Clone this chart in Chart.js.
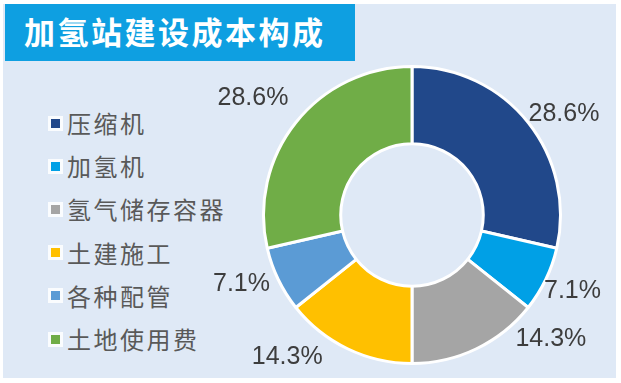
<!DOCTYPE html>
<html>
<head>
<meta charset="utf-8">
<script src="https://cdn.jsdelivr.net/npm/chart.js@4"></script>
<style>
html,body{margin:0;padding:0;background:#ffffff;}
#wrap{position:relative;width:621px;height:383px;overflow:hidden;background:#ffffff;}
#panel{position:absolute;left:3px;top:4px;width:613px;height:374px;background:#dfe9f6;}
#titlebar{position:absolute;left:5px;top:4px;width:350px;height:57px;background:#0e9fe1;}
#title{position:absolute;left:24px;top:9px;font-family:"Noto Sans CJK SC";font-weight:bold;font-size:31px;line-height:44px;color:#ffffff;letter-spacing:2.5px;white-space:nowrap;}
#legend{position:absolute;left:0;top:0;}
.item{position:absolute;left:48px;height:30px;display:flex;align-items:center;}
.mk{width:15px;height:15px;background:rgba(255,255,255,0.85);display:flex;align-items:center;justify-content:center;margin-right:4px;}
.mk span{display:block;width:9px;height:9px;}
.tx{font-family:"Noto Sans CJK SC";font-size:24px;color:#595959;letter-spacing:2.5px;white-space:nowrap;line-height:30px;}
canvas{position:absolute;left:0;top:0;}
</style>
</head>
<body>
<div id="wrap">
  <div id="panel"></div>
  <div id="titlebar"></div>
  <div id="title"></div>
  <div id="legend"></div>
  <div style="position:absolute;left:0;top:0;width:621px;height:383px;"><canvas id="c"></canvas></div>
</div>
<script>
const chartTitle = "加氢站建设成本构成";
const categories = ["压缩机", "加氢机", "氢气储存容器", "土建施工", "各种配管", "土地使用费"];
const values = [28.6, 7.1, 14.3, 14.3, 7.1, 28.6];
const valueLabels = ["28.6%", "7.1%", "14.3%", "14.3%", "7.1%", "28.6%"];
const colors = ["#21488a", "#00a0e6", "#a5a5a5", "#ffc000", "#5b9bd5", "#70ad47"];

document.getElementById('title').textContent = chartTitle;

// HTML legend built from the arrays
const legendEl = document.getElementById('legend');
const legendTops = 108, legendStep = 43.2;
categories.forEach((name, i) => {
  const d = document.createElement('div');
  d.className = 'item';
  d.style.top = (legendTops + i * legendStep) + 'px';
  const mk = document.createElement('div'); mk.className = 'mk';
  const sq = document.createElement('span'); sq.style.background = colors[i];
  mk.appendChild(sq);
  const tx = document.createElement('div'); tx.className = 'tx'; tx.textContent = name;
  d.appendChild(mk); d.appendChild(tx);
  legendEl.appendChild(d);
});

// label nudges (styling), relative to radial anchor
const labelNudge = [[10,12],[-3,-3],[60,-39],[-46,-21],[-7,-10],[-17,-4]];

const labelPlugin = {
  id: 'outLabels',
  afterDatasetsDraw(chart) {
    const ctx = chart.ctx;
    const meta = chart.getDatasetMeta(0);
    ctx.save();
    ctx.font = '25px "Liberation Sans"';
    ctx.fillStyle = '#3d3d3d';
    ctx.textAlign = 'center';
    ctx.textBaseline = 'middle';
    meta.data.forEach((arc, i) => {
      const p = arc.getProps(['x','y','startAngle','endAngle','outerRadius'], true);
      const mid = (p.startAngle + p.endAngle) / 2;
      const r = p.outerRadius + 33;
      const x = p.x + Math.cos(mid) * r + labelNudge[i][0];
      const y = p.y + Math.sin(mid) * r + labelNudge[i][1];
      ctx.fillText(valueLabels[i], x, y);
    });
    ctx.restore();
  }
};

new Chart(document.getElementById('c'), {
  type: 'doughnut',
  data: {
    labels: categories,
    datasets: [{
      data: values,
      backgroundColor: colors,
      borderColor: '#ffffff',
      borderWidth: 3,
      hoverOffset: 0
    }]
  },
  options: {
    responsive: true,
    maintainAspectRatio: false,
    animation: false,
    cutout: '48%',
    layout: { padding: { left: 262, right: 59, top: 65, bottom: 18 } },
    plugins: {
      legend: { display: false },
      tooltip: { enabled: false }
    }
  },
  plugins: [labelPlugin]
});
</script>
</body>
</html>
